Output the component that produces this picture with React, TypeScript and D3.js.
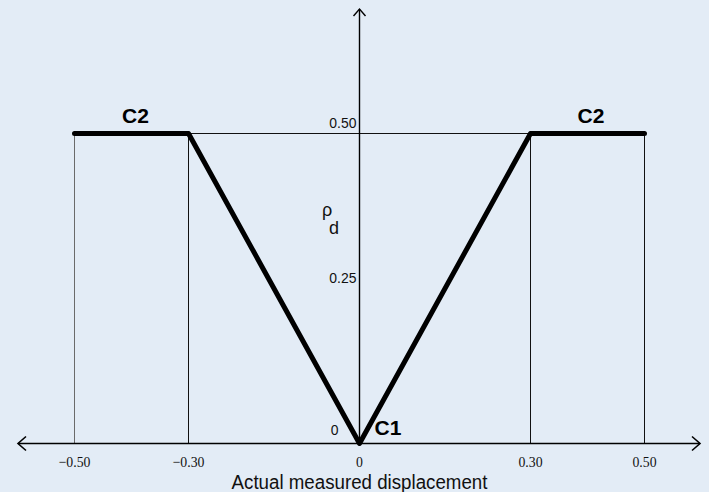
import React from "react";
import * as d3 from "d3";

// Piecewise response curve: plateau C2, linear ramp C1 through the origin
const curveX = [-0.5, -0.3, 0, 0.3, 0.5];
const curveY = [0.5, 0.5, 0, 0.5, 0.5];

// Axis ticks and their labels
const xTicks = [-0.5, -0.3, 0, 0.3, 0.5];
const xTickLabels = ["\u22120.50", "\u22120.30", "0", "0.30", "0.50"];
const yTicks = [0, 0.25, 0.5];
const yTickLabels = ["0", "0.25", "0.50"];

// Region labels placed in data coordinates
const regionNames = ["C2", "C2", "C1"];
const regionX = [-0.393, 0.406, 0.05];
const regionY = [0.5, 0.5, 0];

const xTitle = "Actual measured displacement";

const W = 709;
const H = 492;

export default function App() {
  const x = d3.scaleLinear().domain([-0.5, 0.5]).range([74.5, 644.5]);
  const y = d3.scaleLinear().domain([0, 0.5]).range([443.5, 133.5]);

  const pts: [number, number][] = curveX.map((v, i) => [v, curveY[i]]);
  const line = d3
    .line<[number, number]>()
    .x((d) => x(d[0]))
    .y((d) => y(d[1]));

  const x0 = x(0);
  const yBase = y(0);
  const yTop = y(0.5);

  const guideX = [-0.5, -0.3, 0.3, 0.5];

  return (
    <svg
      width={W}
      height={H}
      style={{ position: "absolute", left: 0, top: 0, display: "block" }}
      fontFamily="Liberation Sans, Arial, sans-serif"
    >
      <rect x={0} y={0} width={W} height={H} fill="#e3ecf6" />

      {/* vertical guides from the baseline up to the plateau */}
      {guideX.map((g, i) => (
        <line
          key={"g" + i}
          x1={x(g)}
          x2={x(g)}
          y1={yBase}
          y2={yTop}
          stroke={g === -0.5 ? "#6a6a6a" : "#111"}
          strokeWidth={1}
        />
      ))}
      {/* horizontal guide at the plateau level */}
      <line x1={x(-0.3)} x2={x(0.3)} y1={yTop} y2={yTop} stroke="#111" strokeWidth={1} />

      {/* x axis with arrowheads */}
      <line x1={18} x2={700} y1={yBase} y2={yBase} stroke="#000" strokeWidth={1.6} />
      <path d={`M${26},${yBase - 7} L${18},${yBase} L${26},${yBase + 7}`} fill="none" stroke="#000" strokeWidth={1.6} />
      <path d={`M${692},${yBase - 7} L${700},${yBase} L${692},${yBase + 7}`} fill="none" stroke="#000" strokeWidth={1.6} />

      {/* y axis with arrowhead */}
      <line x1={x0} x2={x0} y1={yBase} y2={9} stroke="#000" strokeWidth={1.4} />
      <path d={`M${x0 - 6},${16} L${x0},${9} L${x0 + 6},${16}`} fill="none" stroke="#000" strokeWidth={1.4} />

      {/* curve */}
      <path
        d={line(pts) || ""}
        fill="none"
        stroke="#000"
        strokeWidth={5}
        strokeLinejoin="round"
        strokeLinecap="round"
      />

      {/* x tick labels */}
      {xTicks.map((t, i) => (
        <text
          key={"xt" + i}
          transform={`translate(${x(t)},467) scale(0.92,1)`}
          textAnchor="middle"
          fontFamily="Liberation Serif, Times New Roman, serif"
          fontSize={15}
          fill="#111"
        >
          {xTickLabels[i]}
        </text>
      ))}

      {/* y tick labels; the origin label sits left of the curve's V */}
      {yTicks.map((t, i) => (
        <text
          key={"yt" + i}
          transform={`translate(${t === 0 ? x0 - 21 : x0 - 3},${y(t) - (t === 0 ? 9 : 6)}) scale(0.9,1)`}
          textAnchor="end"
          fontSize={15.5}
          fill="#111"
        >
          {yTickLabels[i]}
        </text>
      ))}

      {/* region labels */}
      {regionNames.map((n, i) => (
        <text
          key={"r" + i}
          x={x(regionX[i])}
          y={y(regionY[i]) - (regionY[i] === 0 ? 9 : 11)}
          textAnchor="middle"
          fontWeight="bold"
          fontSize={21}
          fill="#000"
        >
          {n}
        </text>
      ))}

      {/* y axis symbol */}
      <text x={322} y={216} fontSize={18} fill="#111">
        ρ
      </text>
      <text x={329} y={234} fontSize={18} fill="#111">
        d
      </text>

      {/* x axis title */}
      <text
        transform={`translate(${x0},489) scale(0.96,1)`}
        textAnchor="middle"
        fontSize={19.5}
        fill="#111"
      >
        {xTitle}
      </text>
    </svg>
  );
}
